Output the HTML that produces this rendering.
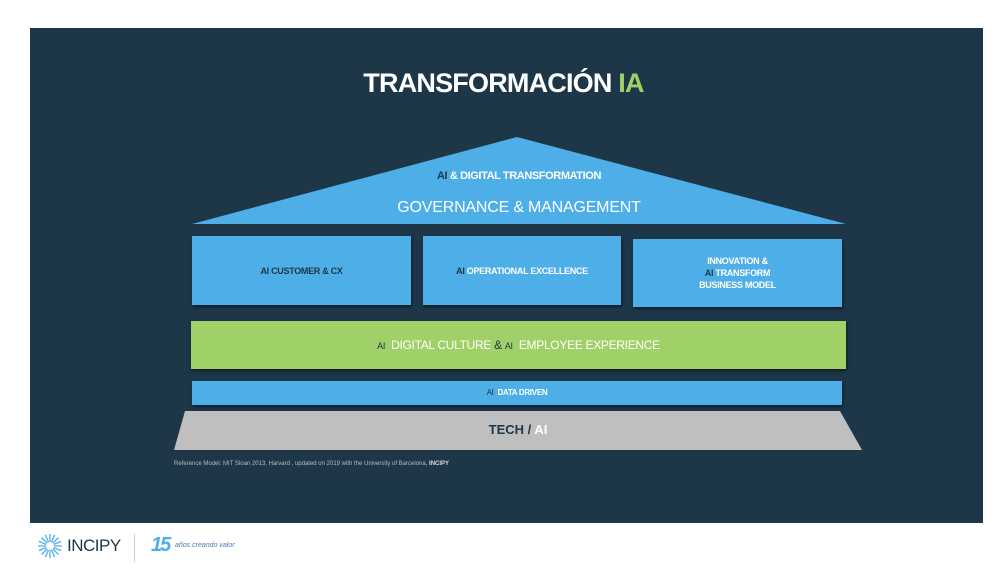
<!DOCTYPE html>
<html><head><meta charset="utf-8"><style>
body{margin:0;width:1007px;height:570px;background:#fff;position:relative;overflow:hidden;font-family:"Liberation Sans",sans-serif}
.panel{position:absolute;left:30px;top:28px;width:953px;height:495px;background:#1d3748}
.t{position:absolute;white-space:nowrap;font-weight:bold;color:#fff;text-align:center}
.box{position:absolute;background:#4eaee8;box-shadow:1px 2px 3px rgba(0,0,0,.5);display:flex;align-items:center;justify-content:center;text-align:center;color:#fff;font-weight:bold;font-size:9px;letter-spacing:-0.3px;line-height:12px}
.d{color:#1d3748}
</style></head><body>
<div class="panel"></div>
<div class="t" style="left:0;width:1007px;top:68px;font-size:27px;letter-spacing:-0.8px">TRANSFORMACIÓN <span style="color:#a0d068">IA</span></div>
<svg style="position:absolute;left:0;top:0" width="1007" height="570">
<polygon points="517,137 192,224 846,224" fill="#4eaee8"/>
<polygon points="185,411 840,411 862,450 174,450" fill="#bfbfbf"/>
</svg>
<div class="t" style="left:192px;width:654px;top:170px;font-size:11px;letter-spacing:-0.4px"><span class="d">AI</span> &amp; DIGITAL TRANSFORMATION</div>
<div class="t" style="left:192px;width:654px;top:199px;font-size:16px;font-weight:normal;letter-spacing:-0.2px">GOVERNANCE &amp; MANAGEMENT</div>
<div class="box" style="left:192px;top:236px;width:219px;height:69px;color:#1d3748">AI CUSTOMER &amp; CX</div>
<div class="box" style="left:423px;top:236px;width:198px;height:69px"><div><span class="d">AI </span>OPERATIONAL EXCELLENCE</div></div>
<div class="box" style="left:633px;top:239px;width:209px;height:68px"><div>INNOVATION &amp;<br><span class="d">AI</span> TRANSFORM<br>BUSINESS MODEL</div></div>
<div class="box" style="left:191px;top:321px;width:655px;height:48px;background:#a0d068;font-size:12px;font-weight:normal;color:#fff"><div><span class="d" style="font-size:9px">AI</span>&nbsp; DIGITAL CULTURE <span class="d">&amp;</span> <span class="d" style="font-size:9px">AI</span>&nbsp; EMPLOYEE EXPERIENCE</div></div>
<div class="box" style="left:192px;top:381px;width:650px;height:24px;font-size:8px"><div><span class="d" style="font-weight:normal">AI</span>&nbsp; DATA DRIVEN</div></div>
<div class="t" style="left:174px;width:688px;top:422px;font-size:13px;color:#1d3748">TECH / <span style="color:#fff">AI</span></div>
<div class="t" style="left:174px;top:461px;font-size:6px;font-weight:normal;color:#bbb">Reference Model: MIT Sloan 2013, Harvard , updated on 2019 with the University of Barcelona, <b style="color:#ddd">INCIPY</b></div>
<svg style="position:absolute;left:38px;top:534px" width="24" height="24"><g stroke="#4eaee8" stroke-width="1.3">
<line x1="12" y1="0" x2="12" y2="24"/><line x1="0" y1="12" x2="24" y2="12"/><line x1="3.5" y1="3.5" x2="20.5" y2="20.5"/><line x1="20.5" y1="3.5" x2="3.5" y2="20.5"/>
<line x1="7.4" y1="0.9" x2="16.6" y2="23.1"/><line x1="16.6" y1="0.9" x2="7.4" y2="23.1"/><line x1="0.9" y1="7.4" x2="23.1" y2="16.6"/><line x1="0.9" y1="16.6" x2="23.1" y2="7.4"/></g>
<circle cx="12" cy="12" r="4" fill="#fff"/></svg>
<div style="position:absolute;left:67px;top:536px;font-size:17px;color:#1d3748;letter-spacing:-0.5px">INCIPY</div>
<div style="position:absolute;left:134px;top:534px;width:1px;height:28px;background:#ccc"></div>
<div style="position:absolute;left:151px;top:534px;font-size:20px;font-weight:bold;font-style:italic;color:#4eaee8;letter-spacing:-2px">15</div>
<div style="position:absolute;left:175px;top:542px;font-size:7px;font-style:italic;color:#4a7ab0">años creando valor</div>
</body></html>
